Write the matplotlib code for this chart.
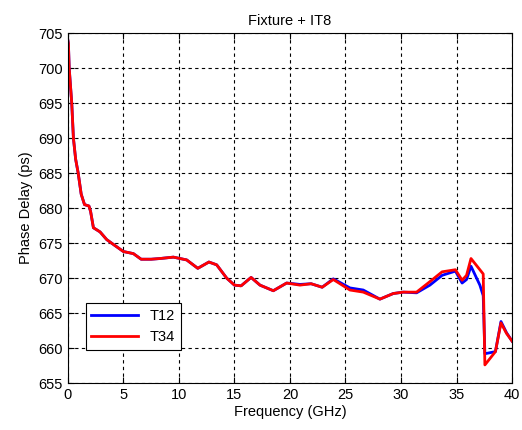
import matplotlib
matplotlib.use("Agg")
import matplotlib.pyplot as plt

plt.rcParams["font.family"] = ["Liberation Sans", "DejaVu Sans"]

# Frequency points (GHz) shared by both traces
freq = [0.0, 0.05, 0.12, 0.35, 0.5, 0.7, 0.93, 1.2, 1.5, 1.9, 2.05, 2.3, 2.9,
        3.5, 4.2, 5.0, 5.9, 6.6, 7.5, 8.3, 9.5, 10.7, 11.7, 12.7, 13.4, 14.3,
        15.0, 15.6, 16.5, 17.3, 18.5, 19.7, 20.9, 21.9, 22.9, 23.9, 25.4, 26.6,
        28.1, 29.3, 30.2, 31.4, 32.6, 33.7, 34.9, 35.5, 35.9, 36.3, 37.1, 37.4,
        37.55, 38.5, 39.0, 39.5, 40.0]

t34 = [704.0, 703.5, 700.0, 695.0, 690.0, 687.0, 685.0, 682.0, 680.5, 680.3,
       679.5, 677.2, 676.6, 675.5, 674.7, 673.8, 673.5, 672.7, 672.7, 672.8,
       673.0, 672.6, 671.4, 672.3, 671.9, 670.0, 669.0, 668.9, 670.1, 669.0,
       668.2, 669.3, 669.0, 669.2, 668.7, 669.8, 668.3, 668.0, 667.0, 667.8,
       668.0, 668.0, 669.5, 670.9, 671.2, 669.7, 670.4, 672.8, 671.2, 670.6,
       657.6, 659.5, 663.6, 662.1, 661.0]

t12 = [704.0, 703.5, 700.0, 695.0, 690.0, 687.0, 685.0, 682.0, 680.5, 680.3,
       679.5, 677.2, 676.6, 675.5, 674.7, 673.8, 673.5, 672.7, 672.7, 672.8,
       673.0, 672.6, 671.4, 672.3, 671.9, 670.0, 669.0, 668.9, 670.1, 669.0,
       668.2, 669.3, 669.1, 669.2, 668.7, 669.9, 668.6, 668.3, 667.0, 667.8,
       668.0, 667.9, 669.0, 670.4, 671.0, 669.3, 669.8, 671.7, 669.0, 667.5,
       659.2, 659.5, 663.8, 662.2, 661.0]

fig = plt.figure(figsize=(5.22, 4.30), dpi=100)
ax = fig.add_axes([0.130, 0.109, 0.851, 0.814])

ax.plot(freq, t12, color="#0000ff", lw=2.0, label="T12")
ax.plot(freq, t34, color="#ff0000", lw=2.0, label="T34")

ax.set_xlim(0, 40)
ax.set_ylim(655, 705)
ax.set_xticks(range(0, 41, 5))
ax.set_yticks(range(655, 706, 5))
ax.grid(True, color="black", linestyle=(0, (3, 3)), linewidth=0.8)
ax.tick_params(direction="in", top=True, right=True, labelsize=10.5, length=4)
for s in ax.spines.values():
    s.set_linewidth(0.8)

ax.set_title("Fixture + IT8", fontsize=10.5, pad=6)
ax.set_xlabel("Frequency (GHz)", fontsize=10.5, labelpad=2)
ax.set_ylabel("Phase Delay (ps)", fontsize=10.5, labelpad=4)

leg = ax.legend(loc="lower left", bbox_to_anchor=(0.04, 0.094), fontsize=10.5,
                fancybox=False, framealpha=1, edgecolor="black",
                handlelength=3.2, borderaxespad=0)
leg.get_frame().set_linewidth(0.8)

fig.savefig("out.png", dpi=100)
